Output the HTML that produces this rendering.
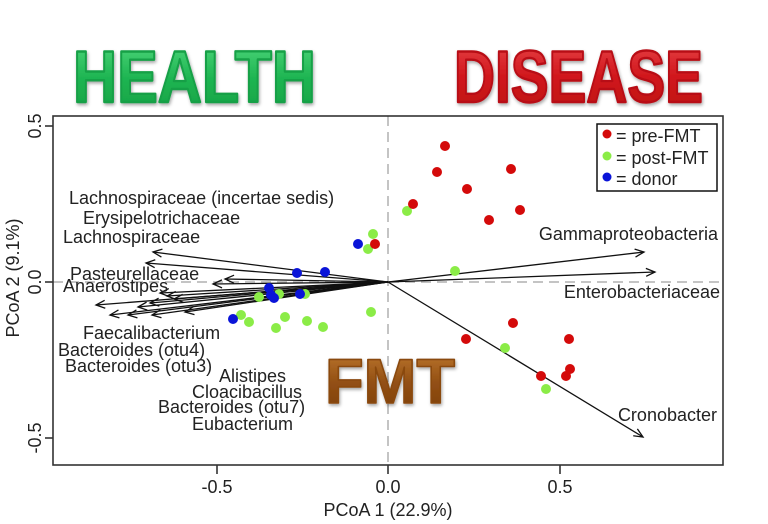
<!DOCTYPE html>
<html>
<head>
<meta charset="utf-8">
<style>
html,body{margin:0;padding:0;background:#fff;}
svg{display:block;}
text{font-family:"Liberation Sans",Arial,sans-serif;}
</style>
</head>
<body>
<svg width="768" height="524" viewBox="0 0 768 524" xmlns="http://www.w3.org/2000/svg">
<defs>
  <marker id="ah" markerWidth="20" markerHeight="20" refX="0" refY="0" orient="auto" markerUnits="userSpaceOnUse" overflow="visible" viewBox="-10 -10 20 20">
    <path d="M-9,-4 L0,0 L-9,4" fill="none" stroke="#111" stroke-width="1.3"/>
  </marker>
  <linearGradient id="gG" x1="0" y1="0" x2="0" y2="1">
    <stop offset="0" stop-color="#52d97f"/>
    <stop offset="0.5" stop-color="#1fb552"/>
    <stop offset="1" stop-color="#14a044"/>
  </linearGradient>
  <linearGradient id="gR" x1="0" y1="0" x2="0" y2="1">
    <stop offset="0" stop-color="#e8454a"/>
    <stop offset="0.5" stop-color="#d0161b"/>
    <stop offset="1" stop-color="#bb1015"/>
  </linearGradient>
  <linearGradient id="gB" x1="0" y1="0" x2="0" y2="1">
    <stop offset="0" stop-color="#c07a30"/>
    <stop offset="0.5" stop-color="#935014"/>
    <stop offset="1" stop-color="#7a3c08"/>
  </linearGradient>
  <filter id="sh" x="-10%" y="-10%" width="120%" height="130%">
    <feDropShadow dx="1" dy="2" stdDeviation="1.5" flood-color="#000" flood-opacity="0.35"/>
  </filter>
</defs>
<rect width="768" height="524" fill="#fff"/>

<!-- Titles -->
<text x="73" y="102" font-size="73" font-weight="bold" textLength="243" lengthAdjust="spacingAndGlyphs" fill="url(#gG)" stroke="#17a046" stroke-width="2.4" stroke-linejoin="round" filter="url(#sh)">HEALTH</text>
<text x="454" y="102" font-size="73" font-weight="bold" textLength="249" lengthAdjust="spacingAndGlyphs" fill="url(#gR)" stroke="#b81015" stroke-width="2.4" stroke-linejoin="round" filter="url(#sh)">DISEASE</text>

<!-- dashed zero lines -->
<line x1="388" y1="116" x2="388" y2="465" stroke="#b0b0b0" stroke-width="1.5" stroke-dasharray="10,6"/>
<line x1="53" y1="282" x2="723" y2="282" stroke="#b0b0b0" stroke-width="1.5" stroke-dasharray="10,6"/>

<!-- plot frame -->
<rect x="53" y="116" width="670" height="349" fill="none" stroke="#333" stroke-width="1.6"/>

<!-- ticks -->
<g stroke="#333" stroke-width="1.6">
  <line x1="45" y1="126" x2="53" y2="126"/>
  <line x1="45" y1="282" x2="53" y2="282"/>
  <line x1="45" y1="438" x2="53" y2="438"/>
  <line x1="217" y1="465" x2="217" y2="474"/>
  <line x1="388" y1="465" x2="388" y2="474"/>
  <line x1="560" y1="465" x2="560" y2="474"/>
</g>
<g font-size="18" fill="#222" text-anchor="middle">
  <text transform="translate(41,126) rotate(-90)">0.5</text>
  <text transform="translate(41,282) rotate(-90)">0.0</text>
  <text transform="translate(41,438) rotate(-90)">-0.5</text>
  <text x="217" y="493">-0.5</text>
  <text x="388" y="493">0.0</text>
  <text x="560" y="493">0.5</text>
  <text x="388" y="516">PCoA 1 (22.9%)</text>
  <text transform="translate(19,278) rotate(-90)">PCoA 2 (9.1%)</text>
</g>

<!-- arrows -->
<g stroke="#111" stroke-width="1.3" marker-end="url(#ah)">
  <line x1="388" y1="282" x2="153" y2="252"/>
  <line x1="388" y1="282" x2="146" y2="263"/>
  <line x1="388" y1="282" x2="225" y2="279"/>
  <line x1="388" y1="282" x2="213" y2="284"/>
  <line x1="388" y1="282" x2="160" y2="293"/>
  <line x1="388" y1="282" x2="167" y2="296"/>
  <line x1="388" y1="282" x2="174" y2="299"/>
  <line x1="388" y1="282" x2="96" y2="305"/>
  <line x1="388" y1="282" x2="138" y2="307"/>
  <line x1="388" y1="282" x2="150" y2="303"/>
  <line x1="388" y1="282" x2="110" y2="315"/>
  <line x1="388" y1="282" x2="128" y2="315"/>
  <line x1="388" y1="282" x2="152" y2="315"/>
  <line x1="388" y1="282" x2="185" y2="312"/>
  <line x1="388" y1="282" x2="644" y2="252"/>
  <line x1="388" y1="282" x2="655" y2="272"/>
  <line x1="388" y1="282" x2="643" y2="437"/>
</g>

<!-- labels -->
<g font-size="18" fill="#222">
  <text x="69" y="204">Lachnospiraceae (incertae sedis)</text>
  <text x="83" y="224">Erysipelotrichaceae</text>
  <text x="63" y="243">Lachnospiraceae</text>
  <text x="70" y="280">Pasteurellaceae</text>
  <text x="63" y="292">Anaerostipes</text>
  <text x="83" y="339">Faecalibacterium</text>
  <text x="58" y="356">Bacteroides (otu4)</text>
  <text x="65" y="372">Bacteroides (otu3)</text>
  <text x="219" y="382">Alistipes</text>
  <text x="192" y="398">Cloacibacillus</text>
  <text x="158" y="413">Bacteroides (otu7)</text>
  <text x="192" y="430">Eubacterium</text>
  <text x="718" y="240" text-anchor="end">Gammaproteobacteria</text>
  <text x="720" y="298" text-anchor="end">Enterobacteriaceae</text>
  <text x="717" y="421" text-anchor="end">Cronobacter</text>
</g>

<!-- points -->
<g fill="#8bec47">
  <circle cx="407" cy="211" r="5"/>
  <circle cx="455" cy="271" r="5"/>
  <circle cx="373" cy="234" r="5"/>
  <circle cx="368" cy="249" r="5"/>
  <circle cx="505" cy="348" r="5"/>
  <circle cx="546" cy="389" r="5"/>
  <circle cx="259" cy="297" r="5"/>
  <circle cx="279" cy="294" r="5"/>
  <circle cx="305" cy="294" r="5"/>
  <circle cx="241" cy="315" r="5"/>
  <circle cx="249" cy="322" r="5"/>
  <circle cx="285" cy="317" r="5"/>
  <circle cx="276" cy="328" r="5"/>
  <circle cx="307" cy="321" r="5"/>
  <circle cx="323" cy="327" r="5"/>
  <circle cx="371" cy="312" r="5"/>
</g>
<g fill="#0a14d8">
  <circle cx="358" cy="244" r="5"/>
  <circle cx="297" cy="273" r="5"/>
  <circle cx="325" cy="272" r="5"/>
  <circle cx="269" cy="288" r="5"/>
  <circle cx="271" cy="295" r="5"/>
  <circle cx="274" cy="298" r="5"/>
  <circle cx="300" cy="294" r="5"/>
  <circle cx="233" cy="319" r="5"/>
</g>
<g fill="#d40a0a">
  <circle cx="445" cy="146" r="5"/>
  <circle cx="437" cy="172" r="5"/>
  <circle cx="511" cy="169" r="5"/>
  <circle cx="467" cy="189" r="5"/>
  <circle cx="413" cy="204" r="5"/>
  <circle cx="520" cy="210" r="5"/>
  <circle cx="489" cy="220" r="5"/>
  <circle cx="375" cy="244" r="5"/>
  <circle cx="513" cy="323" r="5"/>
  <circle cx="466" cy="339" r="5"/>
  <circle cx="569" cy="339" r="5"/>
  <circle cx="541" cy="376" r="5"/>
  <circle cx="566" cy="376" r="5"/>
  <circle cx="570" cy="369" r="5"/>
</g>

<!-- legend -->
<rect x="597" y="124" width="120" height="67" fill="#fff" stroke="#111" stroke-width="1.5"/>
<circle cx="607" cy="134" r="4.5" fill="#d40a0a"/>
<circle cx="607" cy="156" r="4.5" fill="#8bec47"/>
<circle cx="607" cy="177" r="4.5" fill="#0a14d8"/>
<g font-size="18" fill="#222">
  <text x="616" y="142">= pre-FMT</text>
  <text x="616" y="164">= post-FMT</text>
  <text x="616" y="185">= donor</text>
</g>

<!-- FMT -->
<text x="325" y="403" font-size="63" font-weight="bold" textLength="130" lengthAdjust="spacingAndGlyphs" fill="url(#gB)" stroke="#8a4810" stroke-width="1.6" stroke-linejoin="round" filter="url(#sh)">FMT</text>
</svg>
</body>
</html>
